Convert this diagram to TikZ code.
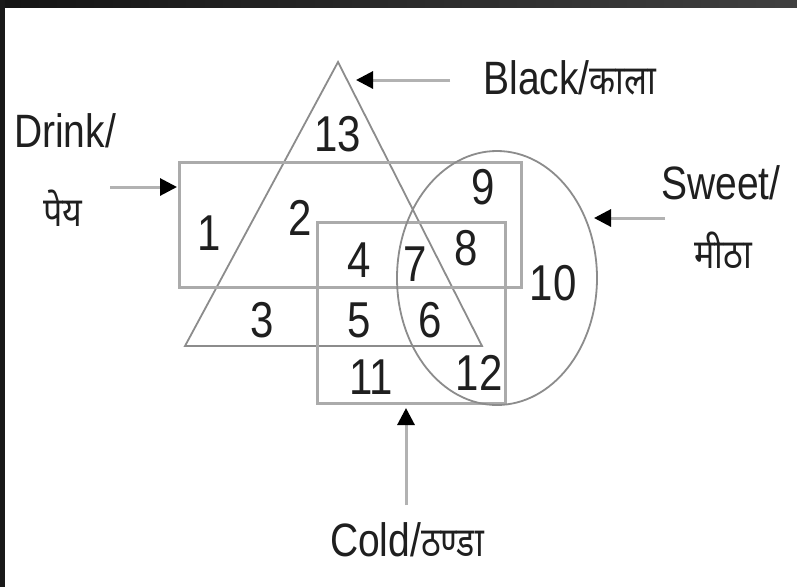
\documentclass[tikz,border=0pt]{standalone}
\usepackage{fontspec}
\usepackage{graphicx}
\setmainfont{Liberation Sans}
\newfontfamily\deva[Script=Devanagari]{Noto Sans}
\usetikzlibrary{arrows.meta}
\newcommand\vst[1]{\scalebox{1}[1.2]{#1}}
\tikzset{
  num/.style={font=\fontsize{42}{44}\selectfont, text=black!88, inner sep=0pt},
  lbl/.style={font=\fontsize{39}{42}\selectfont, text=black!88, inner sep=0pt},
  boxline/.style={draw=black!33, line width=3pt},
  thinline/.style={draw=black!45, line width=1.8pt},
  arr/.style={draw=black!30, line width=3pt, -{Triangle[length=17pt,width=17pt,color=black]}},
}
\begin{document}
\begin{tikzpicture}[x=1pt,y=-1pt]
\useasboundingbox (0,0) rectangle (797,587);
\fill[white] (0,0) rectangle (797,587);
% dark frame
\shade[left color=black!92, right color=black!75] (0,0) rectangle (797,7);
\fill[black!90] (0,0) rectangle (5,587);

% sets
\coordinate (apex) at (338,62);
\coordinate (bl) at (185,346);
\coordinate (br) at (482,346);
\draw[thinline] (apex) -- (bl) -- (br) -- cycle;
\draw[boxline] (179,162) rectangle (521,287);
\draw[boxline] (317,222) rectangle (505,403);
\draw[thinline] (497,278) ellipse [x radius=100, y radius=127];

% region numbers
\node[num] (n13) at (338,134) {\vst{13}};
\node[num] (n9)  at (483,187) {\vst{9}};
\node[num] (n1)  at (209,233) {\vst{1}};
\node[num] (n2)  at (300,218) {\vst{2}};
\node[num] (n4)  at (359,260) {\vst{4}};
\node[num] (n7)  at (415,264) {\vst{7}};
\node[num] (n8)  at (466,248) {\vst{8}};
\node[num] (n10) at (553,283) {\vst{10}};
\node[num] (n3)  at (262,320) {\vst{3}};
\node[num] (n5)  at (359,320) {\vst{5}};
\node[num] (n6)  at (430,320) {\vst{6}};
\node[num] (n11) at (371,377) {\vst{11}};
\node[num] (n12) at (479,373) {\vst{12}};

% labels
\node[lbl] (black) at (570,78) {\vst{Black/{\deva\fontsize{34}{36}\selectfont काला}}};
\node[lbl] (drink) at (65,131) {\vst{Drink/}};
\node[lbl] (drinkhi) at (63,208) {\vst{\deva\fontsize{34}{36}\selectfont पेय}};
\node[lbl] (sweet) at (721,183) {\vst{Sweet/}};
\node[lbl] (sweethi) at (723,250) {\vst{\deva\fontsize{34}{36}\selectfont मीठा}};
\node[lbl] (cold) at (407,540) {\vst{Cold/{\deva\fontsize{34}{36}\selectfont ठण्डा}}};

% arrows
\coordinate (blackS) at (450,80);
\coordinate (blackE) at (356,80);
\coordinate (drinkS) at (110,187);
\coordinate (drinkE) at (177,187);
\coordinate (sweetS) at (665,218);
\coordinate (sweetE) at (594,218);
\coordinate (coldS) at (406,505);
\coordinate (coldE) at (406,408);
\draw[arr] (blackS) -- (blackE);
\draw[arr] (drinkS) -- (drinkE);
\draw[arr] (sweetS) -- (sweetE);
\draw[arr] (coldS) -- (coldE);
\end{tikzpicture}
\end{document}
